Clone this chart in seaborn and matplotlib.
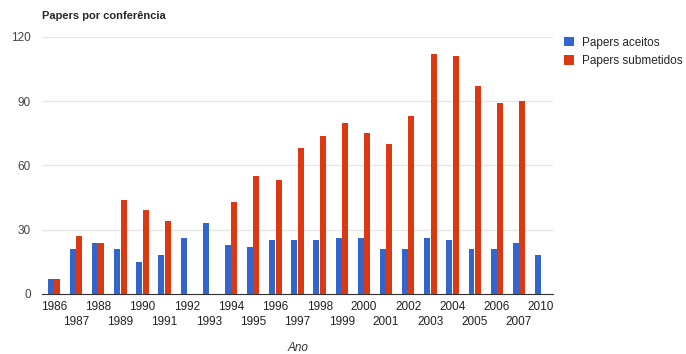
import pandas as pd
import matplotlib.pyplot as plt
import seaborn as sns
from matplotlib.patches import Patch

anos = ['1986', '1987', '1988', '1989', '1990', '1991', '1992', '1993', '1994', '1995', '1996',
        '1997', '1998', '1999', '2000', '2001', '2002', '2003', '2004', '2005', '2006', '2007', '2010']
aceitos = [7, 21, 24, 21, 15, 18, 26, 33, 23, 22, 25, 25, 25, 26, 26, 21, 21, 26, 25, 21, 21, 24, 18]
submetidos = [7, 27, 24, 44, 39, 34, 0, 0, 43, 55, 53, 68, 74, 80, 75, 70, 83, 112, 111, 97, 89, 90, 0]
series = ['Papers aceitos', 'Papers submetidos']
cores = ['#3366CC', '#DC3912']
yticks = [0, 30, 60, 90, 120]

df = pd.DataFrame({'Ano': anos * 2,
                   'valor': aceitos + submetidos,
                   'serie': [series[0]] * len(anos) + [series[1]] * len(anos)})

sns.set_style('white')
plt.rcParams['font.family'] = ['Liberation Sans', 'DejaVu Sans']

fig = plt.figure(figsize=(6.86, 3.54), dpi=100)
ax = fig.add_axes([0.0612, 0.1695, 0.745, 0.726])

sns.barplot(data=df, x='Ano', y='valor', hue='serie', palette=cores, hue_order=series,
            width=0.58, gap=0.08, saturation=1, linewidth=0, legend=False, ax=ax)

ax.set_xlim(-0.54, len(anos) - 1 + 0.54)
ax.set_ylim(0, 120)
ax.set_yticks(yticks)
ax.set_yticklabels([str(v) for v in yticks], fontsize=8.5, color='#444444')
ax.yaxis.grid(True, color='#e6e6e6', linewidth=1)
ax.set_axisbelow(True)
for s in ['top', 'right', 'left']:
    ax.spines[s].set_visible(False)
ax.spines['bottom'].set_color('#333333')
ax.spines['bottom'].set_linewidth(0.8)

# rótulos alternados em duas linhas
pares = list(range(0, len(anos), 2))
impares = list(range(1, len(anos), 2))
ax.set_xticks(pares)
ax.set_xticklabels([anos[i] for i in pares], fontsize=8.5, color='#222222')
ax.set_xticks(impares, minor=True)
ax.set_xticklabels([anos[i] for i in impares], minor=True, fontsize=8.5, color='#222222')
ax.tick_params(axis='both', which='both', length=0)
ax.tick_params(axis='x', which='major', pad=5)
ax.tick_params(axis='x', which='minor', pad=16)
ax.tick_params(axis='y', pad=8)

ax.set_xlabel('Ano', fontsize=8.5, style='italic', color='#333333', labelpad=10)
ax.set_ylabel('')

fig.text(0.0612, 0.955, 'Papers por conferência', fontsize=8, fontweight='bold', va='center')

handles = [Patch(facecolor=c, edgecolor='none') for c in cores]
fig.legend(handles, series, loc='upper left', bbox_to_anchor=(0.815, 0.91), frameon=False,
           fontsize=8.5, handlelength=0.9, handleheight=0.9, handletextpad=0.6,
           labelspacing=0.55, borderaxespad=0)

fig.savefig('out.png', dpi=100)
